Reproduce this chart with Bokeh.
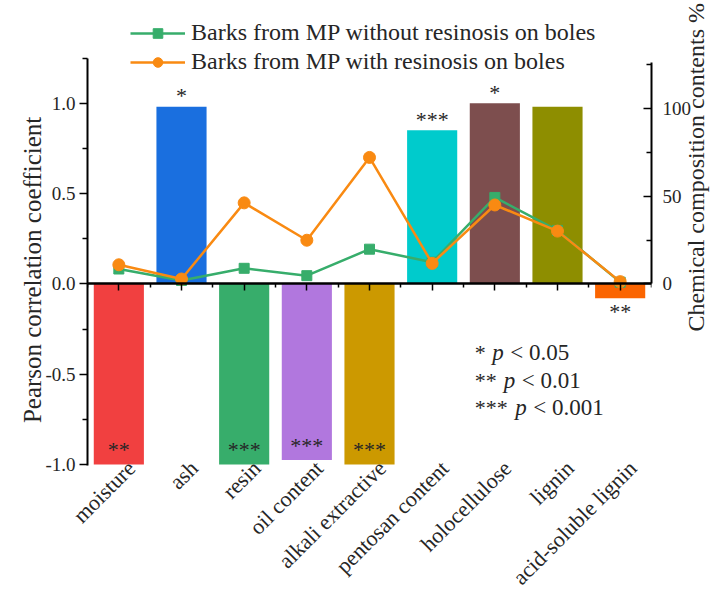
import math
from bokeh.plotting import figure
from bokeh.models import (Range1d, LinearAxis, FixedTicker, Legend, LegendItem,
                          Label, ColumnDataSource)
from bokeh.core.properties import value
from bokeh.embed import file_html
from bokeh.resources import INLINE

# ---------------- data ----------------
categories = ["moisture", "ash", "resin", "oil content", "alkali extractive",
              "pentosan content", "holocellulose", "lignin", "acid-soluble lignin"]
correlation = [-1.0, 0.98, -1.0, -0.975, -1.0, 0.85, 1.0, 0.98, -0.08]
significance = ["**", "*", "***", "***", "***", "***", "*", "", "**"]
without_resinosis = [8.5, 2.0, 8.9, 4.7, 19.8, 12.4, 49.3, 30.5, 1.0]
with_resinosis = [10.9, 2.8, 46.2, 24.9, 72.1, 11.7, 45.0, 30.1, 1.3]
series_names = ["Barks from MP without resinosis on boles",
                "Barks from MP with resinosis on boles"]
left_ticks = [-1.0, -0.5, 0.0, 0.5, 1.0]
left_tick_labels = ["-1.0", "-0.5", "0.0", "0.5", "1.0"]
right_ticks = [0, 50, 100]
right_tick_labels = ["0", "50", "100"]
left_title = "Pearson correlation coefficient"
right_title = "Chemical composition contents %"
p_stars = ["*", "**", "***"]
p_thresholds = ["0.05", "0.01", "0.001"]

# ---------------- styles ----------------
bar_colors = ["#F14040", "#1A6FDF", "#37AD6B", "#B177DE", "#CC9900",
              "#00CBCC", "#7D4E4E", "#8E8E00", "#FB6501"]
green = "#37AD6B"
orange = "#F98A12"
FONT = "Liberation Serif"
TXT = "#262626"

idx = list(range(len(categories)))
axis_lo, axis_hi = -1.2, 1.25          # extent of the left axis line
y_lo, y_hi = -1.005, 1.48              # plotting frame
scale_ratio = 103.0                    # right-axis units per left-axis unit
left_title_pos = 0.925                 # anchor positions of the rotated titles
right_title_pos = -0.264

p = figure(width=725, height=601,
           x_range=Range1d(-0.5, len(categories) - 0.5),
           y_range=Range1d(y_lo, y_hi),
           x_axis_type=None, y_axis_type=None,
           output_backend="svg", toolbar_location=None,
           min_border_left=87, min_border_right=73,
           min_border_top=16, min_border_bottom=131)
p.outline_line_color = None
p.background_fill_color = "white"
p.extra_y_ranges = {"right": Range1d(y_lo * scale_ratio, y_hi * scale_ratio)}
p.extra_x_ranges = {"labels": Range1d(-0.5 - 0.2, len(categories) - 0.5 - 0.2)}

# bars
bar_src = ColumnDataSource(dict(x=idx, top=correlation, color=bar_colors))
p.vbar(x="x", top="top", bottom=0, width=0.8, fill_color="color",
       line_color=None, source=bar_src)

# lines
g_line = p.line(idx, without_resinosis, y_range_name="right", line_color=green, line_width=2.5)
g_pts = p.scatter(idx, without_resinosis, y_range_name="right", marker="square", size=10,
                  fill_color=green, line_color=green)
o_line = p.line(idx, with_resinosis, y_range_name="right", line_color=orange, line_width=2.5)
o_pts = p.scatter(idx, with_resinosis, y_range_name="right", marker="circle", size=12,
                  fill_color=orange, line_color=orange)

# significance marks
sig_off = []
for v in correlation:
    if v >= 0:
        sig_off.append(-11)
    elif abs(v) >= 0.5:
        sig_off.append(-15)
    else:
        sig_off.append(13)
sig_src = ColumnDataSource(dict(x=idx, y=correlation, text=significance, yoff=sig_off))
p.text(x="x", y="y", text="text", y_offset="yoff", source=sig_src,
       text_align="center", text_baseline="middle",
       text_font=value(FONT), text_font_size="22px", text_color=TXT)

# ---------------- axes ----------------
left_axis = LinearAxis(
    ticker=FixedTicker(ticks=left_ticks, minor_ticks=[t + 0.25 for t in left_ticks]),
    bounds=(axis_lo, axis_hi),
    major_label_overrides=dict(zip(left_ticks, left_tick_labels)),
    major_label_text_font=FONT, major_label_text_font_size="19px",
    major_label_text_color=TXT, major_label_standoff=4,
    axis_line_width=2, axis_line_color="black",
    major_tick_out=8, major_tick_in=0, minor_tick_out=5, minor_tick_in=0,
    major_tick_line_width=1.5, minor_tick_line_width=1.5)
p.add_layout(left_axis, "left")

# left title, drawn as the single label of a bare axis (reads bottom-to-top)
left_title_axis = LinearAxis(
    ticker=FixedTicker(ticks=[left_title_pos], minor_ticks=[]),
    major_label_overrides={left_title_pos: left_title},
    major_label_orientation=math.pi / 2,
    axis_line_color=None, major_tick_line_color=None, minor_tick_line_color=None,
    major_tick_out=0, major_tick_in=0, minor_tick_out=0, minor_tick_in=0,
    major_label_standoff=10,
    major_label_text_font=FONT, major_label_text_font_size="25px",
    major_label_text_color=TXT)
p.add_layout(left_title_axis, "left")

right_axis = LinearAxis(
    y_range_name="right",
    ticker=FixedTicker(ticks=right_ticks, minor_ticks=[t + 25 for t in right_ticks]),
    bounds=(0, 126),
    major_label_overrides=dict(zip(right_ticks, right_tick_labels)),
    major_label_text_font=FONT, major_label_text_font_size="19px",
    major_label_text_color=TXT, major_label_standoff=11,
    axis_line_width=2, axis_line_color="black",
    major_tick_out=0, major_tick_in=8, minor_tick_out=0, minor_tick_in=5,
    major_tick_line_width=1.5, minor_tick_line_width=1.5)
p.add_layout(right_axis, "right")

right_title_axis = LinearAxis(
    ticker=FixedTicker(ticks=[right_title_pos], minor_ticks=[]),
    major_label_overrides={right_title_pos: right_title},
    major_label_orientation=math.pi / 2,
    axis_line_color=None, major_tick_line_color=None, minor_tick_line_color=None,
    major_tick_out=0, major_tick_in=0, minor_tick_out=0, minor_tick_in=0,
    major_label_standoff=2,
    major_label_text_font=FONT, major_label_text_font_size="24px",
    major_label_text_color=TXT)
p.add_layout(right_title_axis, "right")

# zero line with category ticks pointing down (labels not drawn)
zero_axis = LinearAxis(
    fixed_location=0,
    ticker=FixedTicker(ticks=idx, minor_ticks=[i - 0.5 for i in idx] + [idx[-1] + 0.5]),
    axis_line_width=2.5, axis_line_color="black",
    major_tick_out=0, major_tick_in=7, minor_tick_out=0, minor_tick_in=4,
    major_tick_line_width=1.5, minor_tick_line_width=1.5,
    major_label_text_font_size="10px", major_label_text_color=None,
    major_label_standoff=0)
p.add_layout(zero_axis, "above")

# category labels along the bottom, rotated 45 degrees
label_axis = LinearAxis(
    x_range_name="labels",
    ticker=FixedTicker(ticks=idx, minor_ticks=[]),
    major_label_overrides=dict(zip(idx, categories)),
    major_label_orientation=math.pi / 4,
    axis_line_color=None, major_tick_line_color=None, minor_tick_line_color=None,
    major_tick_out=0, major_tick_in=0, minor_tick_out=0, minor_tick_in=0,
    major_label_standoff=-1,
    major_label_text_font=FONT, major_label_text_font_size="22px",
    major_label_text_color=TXT)
p.add_layout(label_axis, "below")

# ---------------- legend ----------------
legend = Legend(items=[LegendItem(label=series_names[0], renderers=[g_line, g_pts]),
                       LegendItem(label=series_names[1], renderers=[o_line, o_pts])],
                location=(43, 390), orientation="vertical",
                border_line_color=None, background_fill_alpha=0,
                padding=0, margin=0, spacing=2,
                glyph_width=55, glyph_height=24, label_standoff=6,
                label_text_font=FONT, label_text_font_size="24px",
                label_text_color=TXT)
p.add_layout(legend)

# ---------------- p-value key ----------------
key_x = 5.68
key_y = [-0.380, -0.537, -0.685]
for stars, thr, ky in zip(p_stars, p_thresholds, key_y):
    p_off = 11.5 * len(stars) + 6
    p.add_layout(Label(x=key_x, y=ky, text=stars, text_font=FONT,
                       text_font_size="22px", text_color=TXT,
                       text_baseline="middle"))
    p.add_layout(Label(x=key_x, y=ky, x_offset=p_off, text="p", text_font=FONT,
                       text_font_size="23px", text_font_style="italic",
                       text_color=TXT, text_baseline="middle"))
    p.add_layout(Label(x=key_x, y=ky, x_offset=p_off + 18, text="< " + thr,
                       text_font=FONT, text_font_size="23px", text_color=TXT,
                       text_baseline="middle"))

open("out.html", "w").write(file_html(p, INLINE))
